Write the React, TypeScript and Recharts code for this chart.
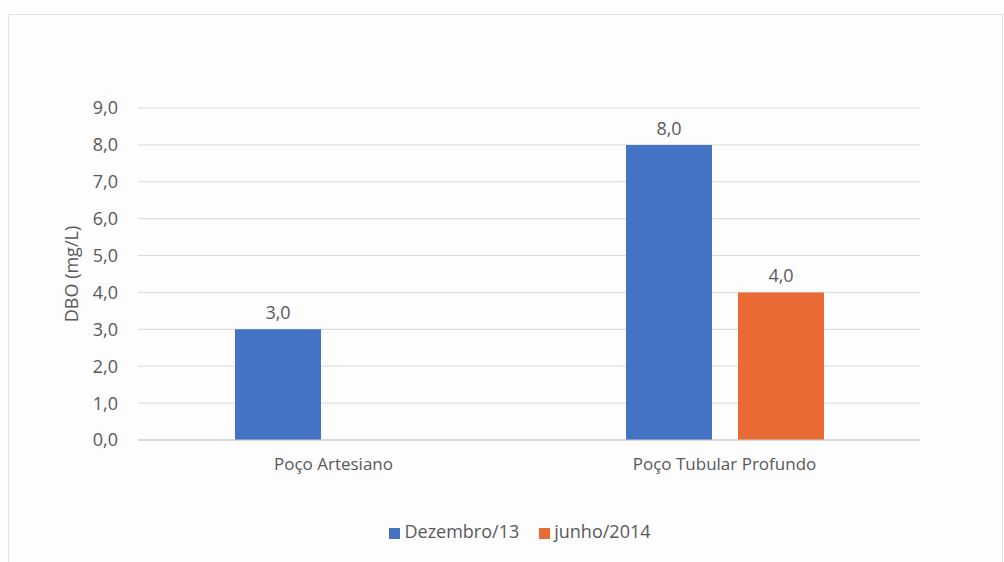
import React from 'react';
import { BarChart, Bar, XAxis, YAxis, CartesianGrid, Legend, LabelList } from 'recharts';

const categories = ['Poço Artesiano', 'Poço Tubular Profundo'];
const dezembro = [3.0, 8.0];
const junho: Array<number | null> = [null, 4.0];
const yTicks = [0, 1, 2, 3, 4, 5, 6, 7, 8, 9];

const data = categories.map((name, i) => ({ name, dez: dezembro[i], jun: junho[i] }));

const fmt = (v: any) => (v == null ? '' : Number(v).toFixed(1).replace('.', ','));

const FONT = '"Open Sans", "Noto Sans", sans-serif';
const TEXT = '#595959';

const App: React.FC = () => {
    return (
        <div style={{ position: 'absolute', left: 0, top: 0, width: 1004, height: 562, background: '#fdfdfd', fontFamily: FONT }}>
            <div style={{ position: 'absolute', left: 8, top: 14, width: 995, height: 560, border: '1px solid #e2e2e2', boxSizing: 'border-box' }} />
            <BarChart
                width={1004}
                height={562}
                data={data}
                margin={{ top: 108, right: 84, left: 0, bottom: 13 }}
                barSize={86}
                barGap={26}
            >
                <CartesianGrid vertical={false} stroke="#d9d9d9" />
                <XAxis
                    dataKey="name"
                    height={79}
                    tickLine={false}
                    axisLine={{ stroke: '#c8c8c8' }}
                    tick={{ fill: TEXT, fontSize: 17, fontFamily: FONT }}
                    tickMargin={12}
                />
                <YAxis
                    width={138}
                    domain={[0, 9]}
                    ticks={yTicks}
                    interval={0}
                    tickFormatter={fmt}
                    axisLine={false}
                    tickLine={false}
                    tickMargin={14}
                    tick={{ fill: TEXT, fontSize: 18, fontFamily: FONT }}
                    label={{
                        value: 'DBO (mg/L)',
                        angle: -90,
                        position: 'insideLeft',
                        offset: 72,
                        style: { textAnchor: 'middle', fill: TEXT, fontSize: 18, fontFamily: FONT },
                    }}
                />
                <Legend
                    verticalAlign="bottom"
                    height={30}
                    iconType="square"
                    iconSize={11}
                    wrapperStyle={{ fontSize: 18, fontFamily: FONT, paddingLeft: 70 }}
                    formatter={(value: string) => <span style={{ color: TEXT, marginRight: 10 }}>{value}</span>}
                />
                <Bar dataKey="dez" name="Dezembro/13" fill="#4472c4" isAnimationActive={false}>
                    <LabelList dataKey="dez" position="top" offset={10} formatter={fmt} fill={TEXT} fontSize={18} fontFamily={FONT} />
                </Bar>
                <Bar dataKey="jun" name="junho/2014" fill="#e96a35" isAnimationActive={false}>
                    <LabelList dataKey="jun" position="top" offset={10} formatter={fmt} fill={TEXT} fontSize={18} fontFamily={FONT} />
                </Bar>
            </BarChart>
        </div>
    );
};

export default App;
